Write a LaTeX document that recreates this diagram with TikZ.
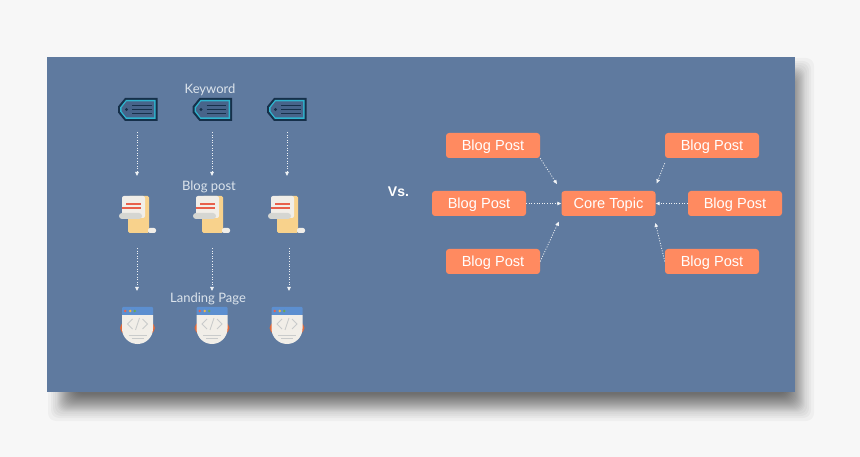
\documentclass[tikz,border=0pt]{standalone}
\usepackage{fontspec}
\setmainfont{Liberation Sans}
\newfontfamily\labelfont{Lato}
\usetikzlibrary{arrows.meta}
\definecolor{pagecol}{HTML}{F7F7F7}
\definecolor{panelcol}{HTML}{5F7A9F}
\definecolor{boxcol}{HTML}{FF8A60}
\definecolor{labelcol}{HTML}{DCE4EC}
\definecolor{tagdark}{HTML}{16304A}
\definecolor{tagcyan}{HTML}{2FB4CE}
\definecolor{tagfill}{HTML}{47648A}
\definecolor{scrollcol}{HTML}{F8D28C}
\definecolor{sheetcol}{HTML}{F1EEE8}
\definecolor{rollcol}{HTML}{D5D6D2}
\definecolor{linecol}{HTML}{E8604C}
\definecolor{barcol}{HTML}{5C8FD0}
\definecolor{sidecol}{HTML}{E0683A}
\definecolor{codecol}{HTML}{C9CBCB}
\definecolor{dotgreen}{HTML}{6AA84F}
\definecolor{dotyellow}{HTML}{F2B544}
\tikzset{
	blogbox/.style={fill=boxcol,rounded corners=3,minimum width=94,minimum height=25,inner sep=0,text=white,text height=10.5,text depth=0,font=\fontsize{14.6}{16}\selectfont},
	toplabel/.style={text=labelcol,inner sep=0,font=\labelfont\fontsize{13}{15}\selectfont},
	flow/.style={draw=white!90!panelcol,line width=.8,dash pattern=on 1 off 1.6,-{Triangle[length=4,width=3.5,fill=white]}},
	tagicon/.pic={
		\fill[tagdark] (-20,-3) -- (-13,-11.5) -- (19.5,-11.5) -- (19.5,11.5) -- (-13,11.5) -- (-20,3) -- cycle;
		\fill[tagcyan] (-18,-2) -- (-12,-9.5) -- (17.5,-9.5) -- (17.5,9.5) -- (-12,9.5) -- (-18,2) -- cycle;
		\fill[tagfill] (-16.5,-1.5) -- (-11.5,-8) -- (16,-8) -- (16,8) -- (-11.5,8) -- (-16.5,1.5) -- cycle;
		\fill[tagdark] (-11.5,0) circle (1.6);
		\foreach \y in {-4,0,4}
			\draw[tagdark,line width=1.2] (-6,\y) -- (13.5,\y);
	},
	scrollicon/.pic={
		\fill[scrollcol,rounded corners=1.5] (-10,-18) rectangle (11,19);
		\fill[sheetcol,rounded corners=2] (-16,-18) rectangle (7,4);
		\fill[sheetcol,rounded corners=2] (10,14) rectangle (18,19);
		\foreach \y/\e in {-10/3,-6/-1,-6/3}
			\draw[linecol,line width=1.3] (\e-15,\y) -- (\e,\y);
		\fill[rollcol,rounded corners=3] (-19,-1) rectangle (4,5);
	},
	browsericon/.pic={
		\fill[sidecol] (0,2) ellipse (17.5 and 9);
		\fill[sheetcol] (-15.5,-11) -- (15.5,-11) -- (15.5,2.5) arc[start angle=0,end angle=180,radius=15.5] -- cycle;
		\fill[barcol,rounded corners=1] (-15.5,-19) rectangle (15.5,-11);
		\foreach \x/\c in {-12.3/linecol,-7.3/dotyellow,-2.7/dotgreen}
			\fill[\c] (\x,-15) circle (1.4);
		\draw[codecol,line width=.8] (-5,-7) -- (-10,-2) -- (-5,3) (5,-7) -- (10,-2) -- (5,3) (2,-8) -- (-2,4);
		\draw[codecol,line width=.6] (-9,9) -- (9,9) (-6,12) -- (6,12);
	}
}
\begin{document}
\begin{tikzpicture}[x=1pt,y=-1pt]
\useasboundingbox (0,0) rectangle (860,457);
\fill[pagecol] (0,0) rectangle (860,457);
% soft shadow behind the panel
\foreach \r in {18,15,13,11,9,8,7,6,5,4,3,2,1,0,-1,-2,-3,-4,-5,-6,-7,-8,-9}
	\fill[black,opacity=.03,rounded corners=8] (66-\r,76-\r) rectangle (796+\r,403+\r);
\fill[panelcol] (47,57) rectangle (795,392);

\node[toplabel] (keyword) at (210,90) {Keyword};
\node[toplabel] (blogpost) at (209,187) {Blog post};
\node[toplabel] (landing) at (208,299) {Landing Page};
\node[text=white,inner sep=0,font=\fontsize{14}{16}\selectfont\bfseries] (versus) at (398.5,192) {Vs.};

\foreach \tx/\sx/\bx/\ax/\cx [count=\i] in {
	138/138/137.5/137/137,
	212.5/212/212/212/212,
	287/287/287/287/289%
	}{
	\pic at (\tx,109.5) {tagicon};
	\pic at (\sx,214) {scrollicon};
	\pic at (\bx,326) {browsericon};
	\coordinate (tagout\i) at (\ax,132);
	\coordinate (scrollin\i) at (\ax,176);
	\coordinate (scrollout\i) at (\cx,248);
	\coordinate (browserin\i) at (\cx,291);
	\draw[flow] (tagout\i) -- (scrollin\i);
	\draw[flow] (scrollout\i) -- (browserin\i);
	}

\node[blogbox] (core) at (608.5,203.5) {Core Topic};
\foreach \nm/\x/\y in {
	topleft/493/145.5,
	midleft/479/203.5,
	lowleft/493/261.5,
	topright/712/145.5,
	midright/735/203.5,
	lowright/712/261.5%
	}{
	\node[blogbox] (\nm) at (\x,\y) {Blog Post};
	}
\draw[flow,shorten >=8] (topleft.south east) -- (core.north west);
\draw[flow] (midleft) -- (core);
\draw[flow,shorten >=6] (lowleft.east) -- (core.south west);
\draw[flow,shorten >=8] ([yshift=-5]topright.south west) -- ([xshift=-2]core.north east);
\draw[flow] (midright) -- (core);
\draw[flow,shorten >=7] (lowright.west) -- ([xshift=-2]core.south east);
\end{tikzpicture}
\end{document}
